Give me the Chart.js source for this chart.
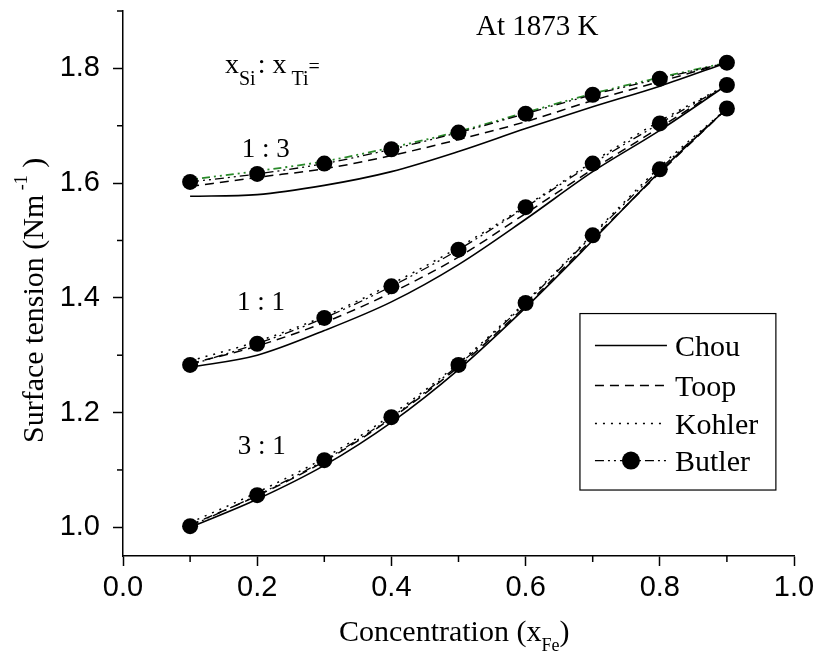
<!DOCTYPE html>
<html lang="en">

<head>
    <meta charset="UTF-8">
    <meta name="viewport" content="width=device-width, initial-scale=1">
    <title>Surface tension at 1873 K</title>
    <style>
        html, body {
            margin: 0;
            padding: 0;
            background: #fff;
        }
        .wrapper {
            position: absolute;
            left: 0;
            top: 0;
            width: 815px;
            height: 655px;
        }
    </style>
</head>

<body>
    <div class="wrapper">
        <canvas id="chart" width="815" height="655"></canvas>
    </div>
    <script src="https://cdn.jsdelivr.net/npm/chart.js"></script>
<script>
    // x_Fe values where each model was evaluated
    const xFe = [0.1, 0.2, 0.3, 0.4, 0.5, 0.6, 0.7, 0.8, 0.9];

    // x_Si : x_Ti = 1 : 3
    const chou13   = [1.577, 1.580, 1.596, 1.620, 1.655, 1.695, 1.733, 1.769, 1.810];
    const toop13   = [1.594, 1.610, 1.625, 1.648, 1.676, 1.707, 1.744, 1.777, 1.810];
    const kohler13 = [1.606, 1.621, 1.638, 1.662, 1.690, 1.723, 1.756, 1.784, 1.810];
    const butler13 = [1.602, 1.616, 1.634, 1.659, 1.688, 1.721, 1.754, 1.782, 1.810];

    // 1 : 1
    const chou11   = [1.279, 1.300, 1.343, 1.393, 1.458, 1.537, 1.620, 1.692, 1.771];
    const toop11   = [1.285, 1.316, 1.357, 1.409, 1.471, 1.547, 1.624, 1.697, 1.771];
    const kohler11 = [1.290, 1.324, 1.368, 1.424, 1.488, 1.560, 1.637, 1.708, 1.771];
    const butler11 = [1.283, 1.320, 1.365, 1.420, 1.484, 1.558, 1.634, 1.704, 1.771];

    // 3 : 1
    const chou31   = [1.000, 1.049, 1.108, 1.183, 1.275, 1.383, 1.500, 1.620, 1.730];
    const toop31   = [1.004, 1.055, 1.115, 1.190, 1.280, 1.386, 1.503, 1.618, 1.730];
    const kohler31 = [1.008, 1.061, 1.121, 1.196, 1.286, 1.393, 1.511, 1.628, 1.730];
    const butler31 = [1.002, 1.056, 1.117, 1.192, 1.283, 1.391, 1.509, 1.624, 1.730];

    const models = ["Chou", "Toop", "Kohler", "Butler"];
    const ratios = ["1 : 3", "1 : 1", "3 : 1"];

    const xTicks = [0.0, 0.2, 0.4, 0.6, 0.8, 1.0];
    const xMinor = [0.1, 0.3, 0.5, 0.7, 0.9];
    const yTicks = [1.0, 1.2, 1.4, 1.6, 1.8];
    const yMinor = [1.1, 1.3, 1.5, 1.7, 1.9];

    const serif = "'Liberation Serif', 'Times New Roman', serif";
    const sans = "'Liberation Sans', Arial, sans-serif";

    const styles = {
        Chou:   { dash: [], width: 1.6 },
        Toop:   { dash: [9, 6], width: 1.5 },
        Kohler: { dash: [2, 6], width: 1.5 },
        Butler: { dash: [9, 4, 2, 4, 2, 4], width: 1.3 }
    };

    const series = [
        [chou13, toop13, kohler13, butler13],
        [chou11, toop11, kohler11, butler11],
        [chou31, toop31, kohler31, butler31]
    ];

    const datasets = [];
    series.forEach((group, gi) => {
        group.forEach((vals, mi) => {
            const name = models[mi];
            const st = styles[name];
            const isButler = name === "Butler";
            // the Kohler line of the 1:3 set is green in the original
            const green = gi === 0 && name === "Kohler";
            datasets.push({
                label: name + " " + ratios[gi],
                data: xFe.map((x, i) => ({ x: x, y: vals[i] })),
                borderColor: green ? "#2a8a2a" : "#000",
                borderWidth: green ? 1.8 : st.width,
                borderDash: green ? [2, 4, 2, 4, 8, 4] : st.dash,
                backgroundColor: "#000",
                pointRadius: isButler ? 8 : 0,
                pointBackgroundColor: "#000",
                pointBorderWidth: 0,
                cubicInterpolationMode: "monotone",
                order: isButler ? 0 : 1
            });
        });
    });

    function drawPieces(ctx, x, y, pieces) {
        let cx = x;
        pieces.forEach(p => {
            ctx.font = p.size + "px " + serif;
            ctx.fillText(p.text, cx + (p.dx || 0), y + (p.dy || 0));
            cx += ctx.measureText(p.text).width + (p.dx || 0);
        });
    }

    const decor = {
        id: "decor",
        afterDraw(chart) {
            const ctx = chart.ctx;
            const area = chart.chartArea;
            const xs = chart.scales.x;
            const ys = chart.scales.y;
            ctx.save();
            ctx.strokeStyle = "#000";
            ctx.fillStyle = "#000";
            ctx.lineWidth = 1.5;

            // minor ticks
            xMinor.forEach(v => {
                const px = xs.getPixelForValue(v);
                ctx.beginPath();
                ctx.moveTo(px, area.bottom);
                ctx.lineTo(px, area.bottom + 6);
                ctx.stroke();
            });
            yMinor.forEach(v => {
                const py = ys.getPixelForValue(v);
                ctx.beginPath();
                ctx.moveTo(area.left - 6, py);
                ctx.lineTo(area.left, py);
                ctx.stroke();
            });

            ctx.textBaseline = "alphabetic";
            ctx.textAlign = "left";

            // annotations
            ctx.font = "29px " + serif;
            ctx.fillText("At 1873 K", xs.getPixelForValue(0.526), ys.getPixelForValue(1.858));
            drawPieces(ctx, xs.getPixelForValue(0.152), ys.getPixelForValue(1.792), [
                { text: "x", size: 28 },
                { text: "Si", size: 20, dy: 12 },
                { text: ":", size: 28, dx: 2 },
                { text: " x", size: 28 },
                { text: " Ti", size: 20, dy: 12 },
                { text: "=", size: 20 }
            ]);
            ctx.font = "27px " + serif;
            ctx.fillText(ratios[0], xs.getPixelForValue(0.177), ys.getPixelForValue(1.645));
            ctx.fillText(ratios[1], xs.getPixelForValue(0.170), ys.getPixelForValue(1.378));
            ctx.fillText(ratios[2], xs.getPixelForValue(0.171), ys.getPixelForValue(1.128));

            // x axis title
            drawPieces(ctx, 339, 641, [
                { text: "Concentration (x", size: 30 },
                { text: "Fe", size: 18, dy: 10 },
                { text: ")", size: 30 }
            ]);

            // y axis title
            ctx.save();
            ctx.translate(43, 443);
            ctx.rotate(-Math.PI / 2);
            drawPieces(ctx, 0, 0, [
                { text: "Surface tension (Nm", size: 30 },
                { text: " -1", size: 18, dy: -16 },
                { text: " )", size: 30 }
            ]);
            ctx.restore();

            // legend box
            const bl = xs.getPixelForValue(0.681);
            const br = xs.getPixelForValue(0.973);
            const bt = ys.getPixelForValue(1.3726);
            const bb = ys.getPixelForValue(1.065);
            ctx.lineWidth = 1.2;
            ctx.setLineDash([]);
            ctx.strokeRect(bl, bt, br - bl, bb - bt);
            const rows = [32, 72, 110, 147];
            models.forEach((name, i) => {
                const st = styles[name];
                const ry = bt + rows[i];
                ctx.setLineDash(st.dash);
                ctx.lineWidth = st.width;
                ctx.beginPath();
                ctx.moveTo(bl + 15, ry);
                ctx.lineTo(bl + 87, ry);
                ctx.stroke();
                ctx.setLineDash([]);
                if (name === "Butler") {
                    ctx.beginPath();
                    ctx.arc(bl + 51, ry, 9, 0, Math.PI * 2);
                    ctx.fill();
                }
                ctx.font = "30px " + serif;
                ctx.fillText(name, bl + 95, ry + 10);
            });
            ctx.restore();
        }
    };

    const ctx = document.getElementById("chart");

    const chart = new Chart(ctx, {
        type: "line",
        data: { datasets: datasets },
        options: {
            responsive: false,
            animation: false,
            events: [],
            layout: { padding: { top: 11, right: 21, left: 0, bottom: 0 } },
            plugins: {
                legend: { display: false },
                tooltip: { enabled: false }
            },
            scales: {
                x: {
                    type: "linear",
                    min: 0,
                    max: 1,
                    afterBuildTicks: s => { s.ticks = xTicks.map(v => ({ value: v })); },
                    afterFit: s => {
                        s.height = 99;
                        s.paddingLeft = 0;
                        s.paddingRight = 0;
                    },
                    border: { color: "#000", width: 1.5 },
                    grid: { drawOnChartArea: false, drawTicks: true, tickLength: 10, tickColor: "#000", tickWidth: 1.5 },
                    ticks: {
                        color: "#000",
                        padding: 5,
                        maxRotation: 0,
                        font: { family: sans, size: 29 },
                        callback: v => Number(v).toFixed(1)
                    }
                },
                y: {
                    type: "linear",
                    min: 0.95,
                    max: 1.9,
                    afterBuildTicks: s => { s.ticks = yTicks.map(v => ({ value: v })); },
                    afterFit: s => {
                        s.width = 123;
                        s.paddingTop = 0;
                        s.paddingBottom = 0;
                    },
                    border: { color: "#000", width: 1.5 },
                    grid: { drawOnChartArea: false, drawTicks: true, tickLength: 10, tickColor: "#000", tickWidth: 1.5 },
                    ticks: {
                        color: "#000",
                        padding: 13,
                        font: { family: sans, size: 29 },
                        callback: v => Number(v).toFixed(1)
                    }
                }
            }
        },
        plugins: [decor]
    });
</script>
</body>

</html>
